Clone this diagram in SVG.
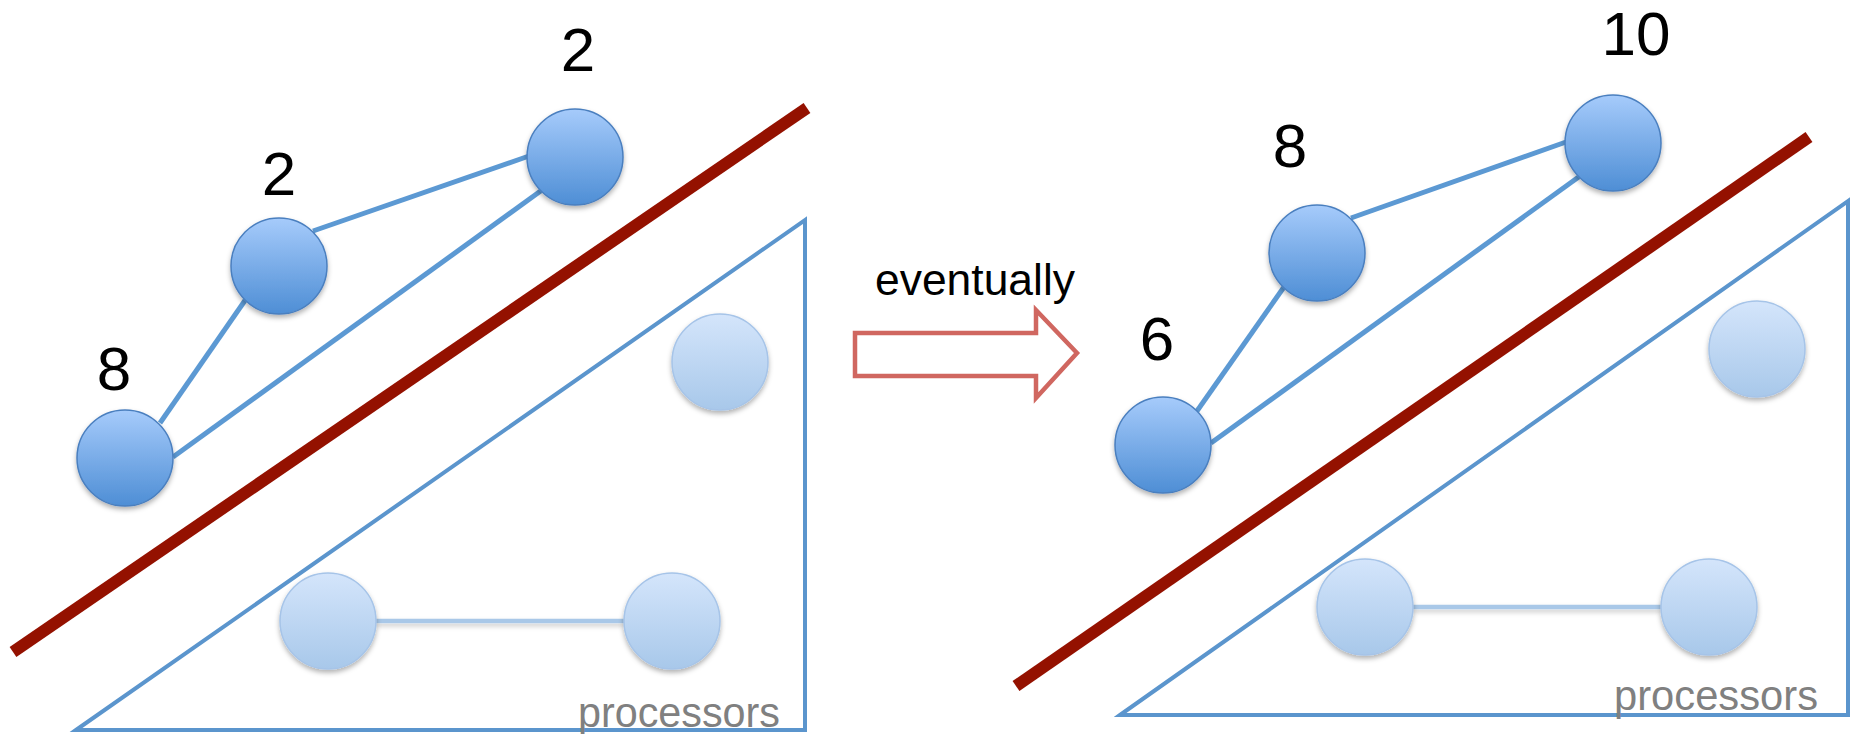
<svg xmlns="http://www.w3.org/2000/svg" width="1856" height="734" viewBox="0 0 1856 734">
<defs>
<linearGradient id="gDark" x1="0" y1="0" x2="0" y2="1">
<stop offset="0" stop-color="#a6cbfb"/>
<stop offset="1" stop-color="#4e8ed5"/>
</linearGradient>
<linearGradient id="gLight" x1="0" y1="0" x2="0" y2="1">
<stop offset="0" stop-color="#d4e5fb"/>
<stop offset="1" stop-color="#a8c8ea"/>
</linearGradient>
<filter id="sh" x="-30%" y="-30%" width="160%" height="170%">
<feDropShadow dx="0" dy="3" stdDeviation="2.5" flood-color="#000" flood-opacity="0.3"/>
</filter>
<filter id="shl" filterUnits="userSpaceOnUse" x="0" y="0" width="1856" height="734">
<feDropShadow dx="0" dy="3" stdDeviation="2.5" flood-color="#000" flood-opacity="0.2"/>
</filter>
</defs>
<style>
.bg{fill:#ffffff}
.nd{fill:url(#gDark);stroke:#4a7fbf;stroke-width:1.5;filter:url(#sh)}
.nl{fill:url(#gLight);stroke:#a6c4e8;stroke-width:1.5;filter:url(#sh)}
.ed{stroke:#5c99d3;stroke-width:5;fill:none}
.el{stroke:#a9c8e8;stroke-width:4.5;fill:none;filter:url(#shl)}
.tri{fill:none;stroke:#5b95cd;stroke-width:4;stroke-linejoin:miter}
.cut{stroke:#941100;stroke-width:12;fill:none}
.num{font-family:"Liberation Sans",Arial,sans-serif;font-size:62px;fill:#000;text-anchor:middle}
.proc{font-family:"Liberation Sans",Arial,sans-serif;font-size:43px;fill:#808080}
.lbl{font-family:"Liberation Sans",Arial,sans-serif;font-size:44px;fill:#000}
.arr{fill:#ffffff;stroke:#d06760;stroke-width:4.5;stroke-linejoin:miter}
</style>
<rect class="bg" x="0" y="0" width="1856" height="734"/>

<g id="left-panel">
<polygon id="left-triangle" class="tri" points="76,730 805,220 805,730"/>
<text id="left-processors" class="proc" x="578" y="727" textLength="202" lengthAdjust="spacingAndGlyphs">processors</text>
<line id="left-cut" class="cut" x1="13" y1="652" x2="807" y2="108"/>
</g>

<g id="connectors">
<line class="ed" x1="160" y1="423" x2="246" y2="299"/>
<line class="ed" x1="173" y1="457" x2="542" y2="190"/>
<line class="ed" x1="313" y1="231" x2="529" y2="156"/>
<line class="el" x1="376" y1="621" x2="624" y2="621"/>
<line class="ed" x1="1197" y1="411" x2="1284" y2="287"/>
<line class="ed" x1="1211" y1="443" x2="1580" y2="176"/>
<line class="ed" x1="1351" y1="218" x2="1566" y2="142"/>
<line class="el" x1="1413" y1="607" x2="1661" y2="607"/>
</g>

<g id="node-left-8"><circle class="nd" cx="125" cy="458" r="48"/><text class="num" x="114" y="390">8</text></g>
<g id="node-left-2a"><circle class="nd" cx="279" cy="266" r="48"/><text class="num" x="279" y="195">2</text></g>
<g id="node-left-2b"><circle class="nd" cx="575" cy="157" r="48"/><text class="num" x="578" y="71">2</text></g>
<g id="node-left-p1"><circle class="nl" cx="720" cy="362" r="48"/></g>
<g id="node-left-p2"><circle class="nl" cx="328" cy="621" r="48"/></g>
<g id="node-left-p3"><circle class="nl" cx="672" cy="621" r="48"/></g>

<g id="arrow">
<polygon class="arr" points="855,333 1036,333 1036,310 1077,353 1036,398 1036,376 855,376"/>
<text class="lbl" x="875" y="295" textLength="200" lengthAdjust="spacingAndGlyphs">eventually</text>
</g>

<g id="right-panel">
<polygon id="right-triangle" class="tri" points="1120,715 1848,201 1848,715"/>
<text id="right-processors" class="proc" x="1614" y="710" textLength="204" lengthAdjust="spacingAndGlyphs">processors</text>
<line id="right-cut" class="cut" x1="1016" y1="686" x2="1809" y2="137"/>
</g>

<g id="node-right-6"><circle class="nd" cx="1163" cy="445" r="48"/><text class="num" x="1157" y="360">6</text></g>
<g id="node-right-8"><circle class="nd" cx="1317" cy="253" r="48"/><text class="num" x="1290" y="167">8</text></g>
<g id="node-right-10"><circle class="nd" cx="1613" cy="143" r="48"/><text class="num" x="1636" y="55">10</text></g>
<g id="node-right-p1"><circle class="nl" cx="1757" cy="349" r="48"/></g>
<g id="node-right-p2"><circle class="nl" cx="1365" cy="607" r="48"/></g>
<g id="node-right-p3"><circle class="nl" cx="1709" cy="607" r="48"/></g>
</svg>
